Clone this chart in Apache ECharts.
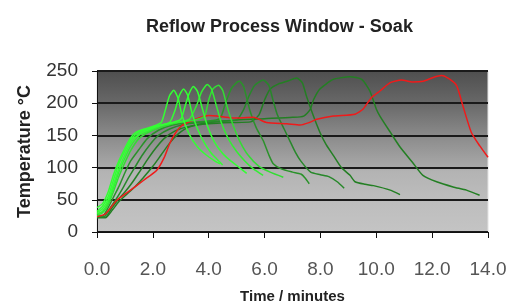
<!DOCTYPE html>
<html>
<head>
<meta charset="utf-8">
<script src="https://cdn.jsdelivr.net/npm/echarts@6/dist/echarts.min.js"></script>
<style>
  html, body { margin: 0; padding: 0; background: #fff; }
  #chart { width: 510px; height: 303px; }
</style>
</head>
<body>
<div id="chart"></div>
<script>
// profiles: [minutes, degC]
const profileG1 = [[0,38],[0.2,44],[0.4,62],[0.6,90],[0.8,112],[1.0,130],[1.2,146],[1.4,155],[1.7,160],[2.0,164],[2.3,170],[2.45,190],[2.6,212],[2.75,220],[2.9,208],[3.05,180],[3.3,152],[3.6,132],[3.9,120],[4.2,111],[4.4,106]];
const profileG2 = [[0,32],[0.2,40],[0.4,55],[0.6,82],[0.8,108],[1.0,126],[1.2,142],[1.45,154],[1.8,160],[2.2,165],[2.6,170],[2.8,190],[2.95,212],[3.1,222],[3.25,212],[3.4,185],[3.6,160],[3.85,138],[4.1,122],[4.3,113],[4.5,104]];
const profileG3 = [[0,30],[0.2,36],[0.4,50],[0.6,75],[0.8,100],[1.0,120],[1.2,138],[1.5,152],[1.9,160],[2.3,166],[2.7,170],[3.0,175],[3.15,195],[3.3,215],[3.45,226],[3.6,218],[3.75,195],[3.95,165],[4.2,140],[4.5,122],[4.8,110],[5.1,100],[5.36,91]];
const profileG4 = [[0,28],[0.2,32],[0.4,46],[0.6,70],[0.8,95],[1.0,115],[1.2,133],[1.5,150],[1.9,158],[2.3,165],[2.8,170],[3.3,175],[3.55,195],[3.75,218],[3.95,229],[4.1,222],[4.25,200],[4.45,170],[4.7,145],[5.0,125],[5.3,110],[5.6,98],[5.95,88]];
const profileG5 = [[0,26],[0.2,30],[0.4,42],[0.6,64],[0.8,88],[1.0,108],[1.2,126],[1.5,145],[1.9,156],[2.4,164],[2.9,170],[3.5,174],[3.85,180],[4.0,205],[4.15,222],[4.35,228],[4.5,220],[4.65,196],[4.88,165],[5.1,142],[5.4,120],[5.8,102],[6.2,93],[6.67,85]];
const profileD1 = [[0,25],[0.2,25],[0.4,38],[0.6,55],[0.8,72],[1.0,92],[1.2,110],[1.5,128],[1.8,145],[2.2,158],[2.7,166],[3.3,170],[3.9,172],[4.4,176],[4.6,200],[4.8,222],[5.0,232],[5.1,234],[5.25,226],[5.48,188],[5.7,162],[5.95,142],[6.15,120],[6.31,106],[6.6,98],[7.0,93],[7.3,90],[7.45,84],[7.6,75]];
const profileD2 = [[0,24],[0.25,24],[0.45,36],[0.7,52],[0.9,66],[1.1,82],[1.35,100],[1.6,118],[1.9,136],[2.2,150],[2.6,160],[3.1,167],[3.7,170],[4.4,172],[5.0,174],[5.25,190],[5.45,212],[5.65,228],[5.95,236],[6.15,228],[6.3,205],[6.45,183],[6.7,160],[6.9,142],[7.1,124],[7.3,110],[7.65,93],[8.0,89],[8.3,86],[8.6,78],[8.85,68]];
const profileD3 = [[0,23],[0.3,23],[0.5,35],[0.75,50],[1.0,62],[1.25,76],[1.5,92],[1.8,112],[2.1,130],[2.4,145],[2.8,157],[3.3,164],[4.0,168],[4.8,170],[5.5,171],[5.8,182],[6.0,205],[6.2,222],[6.5,230],[6.8,234],[7.15,239],[7.35,232],[7.5,211],[7.75,180],[7.98,155],[8.2,136],[8.46,119],[8.75,100],[9.06,88],[9.24,78],[9.6,74],[9.9,72],[10.5,65],[10.85,58]];
const profileD4 = [[0,22],[0.3,22],[0.55,34],[0.8,48],[1.05,58],[1.35,70],[1.65,84],[2.0,102],[2.3,120],[2.6,138],[2.9,152],[3.3,163],[4.0,170],[5.0,174],[6.0,176],[7.0,178],[7.4,180],[7.63,190],[7.75,205],[7.98,222],[8.46,237],[9.06,241],[9.48,237],[9.77,219],[10.0,191],[10.13,180],[10.5,155],[10.85,132],[11.3,108],[11.67,88],[12.16,78],[12.75,70],[13.23,65],[13.7,57]];
const profileRed = [[0,24],[0.3,28],[0.7,49],[1.2,65],[1.66,80],[2.14,96],[2.4,115],[2.6,137],[2.8,153],[3.03,165],[3.4,173],[3.69,178],[4.0,181],[4.5,179],[4.88,177],[5.6,178],[6.07,170],[6.8,168],[7.27,166],[7.6,170],[7.87,175],[8.46,180],[9.24,183],[9.53,191],[9.83,209],[10.13,219],[10.5,232],[10.9,236],[11.3,233],[11.68,234],[12.04,240],[12.34,243],[12.6,238],[12.88,227],[13.1,196],[13.4,155],[13.7,134],[14,116]];

const xTicks = [0, 2, 4, 6, 8, 10, 12, 14];
const yTicks = [0, 50, 100, 150, 200, 250];

const profiles = [
  { data: profileD4, color: '#237f23' },
  { data: profileD3, color: '#237f23' },
  { data: profileD2, color: '#27882a' },
  { data: profileD1, color: '#2a922a' },
  { data: profileRed, color: '#f01a1a' },
  { data: profileG5, color: '#33dd33' },
  { data: profileG4, color: '#33ee33' },
  { data: profileG3, color: '#33ff33' },
  { data: profileG2, color: '#33ff33' },
  { data: profileG1, color: '#33ff33' }
];

const chart = echarts.init(document.getElementById('chart'), null, { renderer: 'canvas' });

chart.setOption({
  animation: false,
  title: {
    text: 'Reflow Process Window - Soak',
    left: 141,
    top: 13,
    textStyle: { fontFamily: 'Liberation Sans', fontSize: 18, fontWeight: 'bold', color: '#222' }
  },
  grid: {
    left: 97, right: 22, top: 71, bottom: 71,
    containLabel: false,
    outerBoundsMode: 'none',
    show: true,
    borderColor: '#e2e2e2',
    borderWidth: 1,
    backgroundColor: new echarts.graphic.LinearGradient(0, 0, 0, 1, [
      { offset: 0, color: '#4e4e4e' },
      { offset: 0.2, color: '#686868' },
      { offset: 0.4, color: '#8a8a8a' },
      { offset: 0.6, color: '#a9a9a9' },
      { offset: 0.62, color: '#b3b3b3' },
      { offset: 0.8, color: '#bdbdbd' },
      { offset: 1, color: '#c4c4c4' }
    ])
  },
  xAxis: {
    type: 'value',
    min: xTicks[0],
    max: xTicks[xTicks.length - 1],
    interval: 2,
    name: 'Time / minutes',
    nameLocation: 'middle',
    nameGap: 57,
    nameTextStyle: { fontFamily: 'Liberation Sans', fontSize: 15, fontWeight: 'bold', color: '#222' },
    axisLine: { show: true, lineStyle: { color: '#111', width: 1 } },
    axisTick: { show: true, length: 6, lineStyle: { color: '#111' } },
    axisLabel: {
      margin: 28,
      fontFamily: 'Liberation Sans',
      fontSize: 19,
      color: '#555',
      formatter: v => v.toFixed(1)
    },
    splitLine: { show: false }
  },
  yAxis: {
    type: 'value',
    min: yTicks[0],
    max: yTicks[yTicks.length - 1],
    interval: 50,
    name: 'Temperature °C',
    nameLocation: 'middle',
    nameGap: 63,
    nameTextStyle: { fontFamily: 'Liberation Sans', fontSize: 18, fontWeight: 'bold', color: '#222' },
    axisLine: { show: true, lineStyle: { color: '#111', width: 1 } },
    axisTick: { show: true, length: 5, lineStyle: { color: '#111' } },
    axisLabel: {
      margin: 19,
      fontFamily: 'Liberation Sans',
      fontSize: 19,
      color: '#333'
    },
    splitLine: { show: true, lineStyle: { color: '#1a1a1a', width: 2 } }
  },
  series: profiles.map(p => ({
    type: 'line',
    data: p.data,
    showSymbol: false,
    smooth: 0.2,
    lineStyle: { color: p.color, width: 1.5 },
    z: 3
  }))
});
</script>
</body>
</html>
